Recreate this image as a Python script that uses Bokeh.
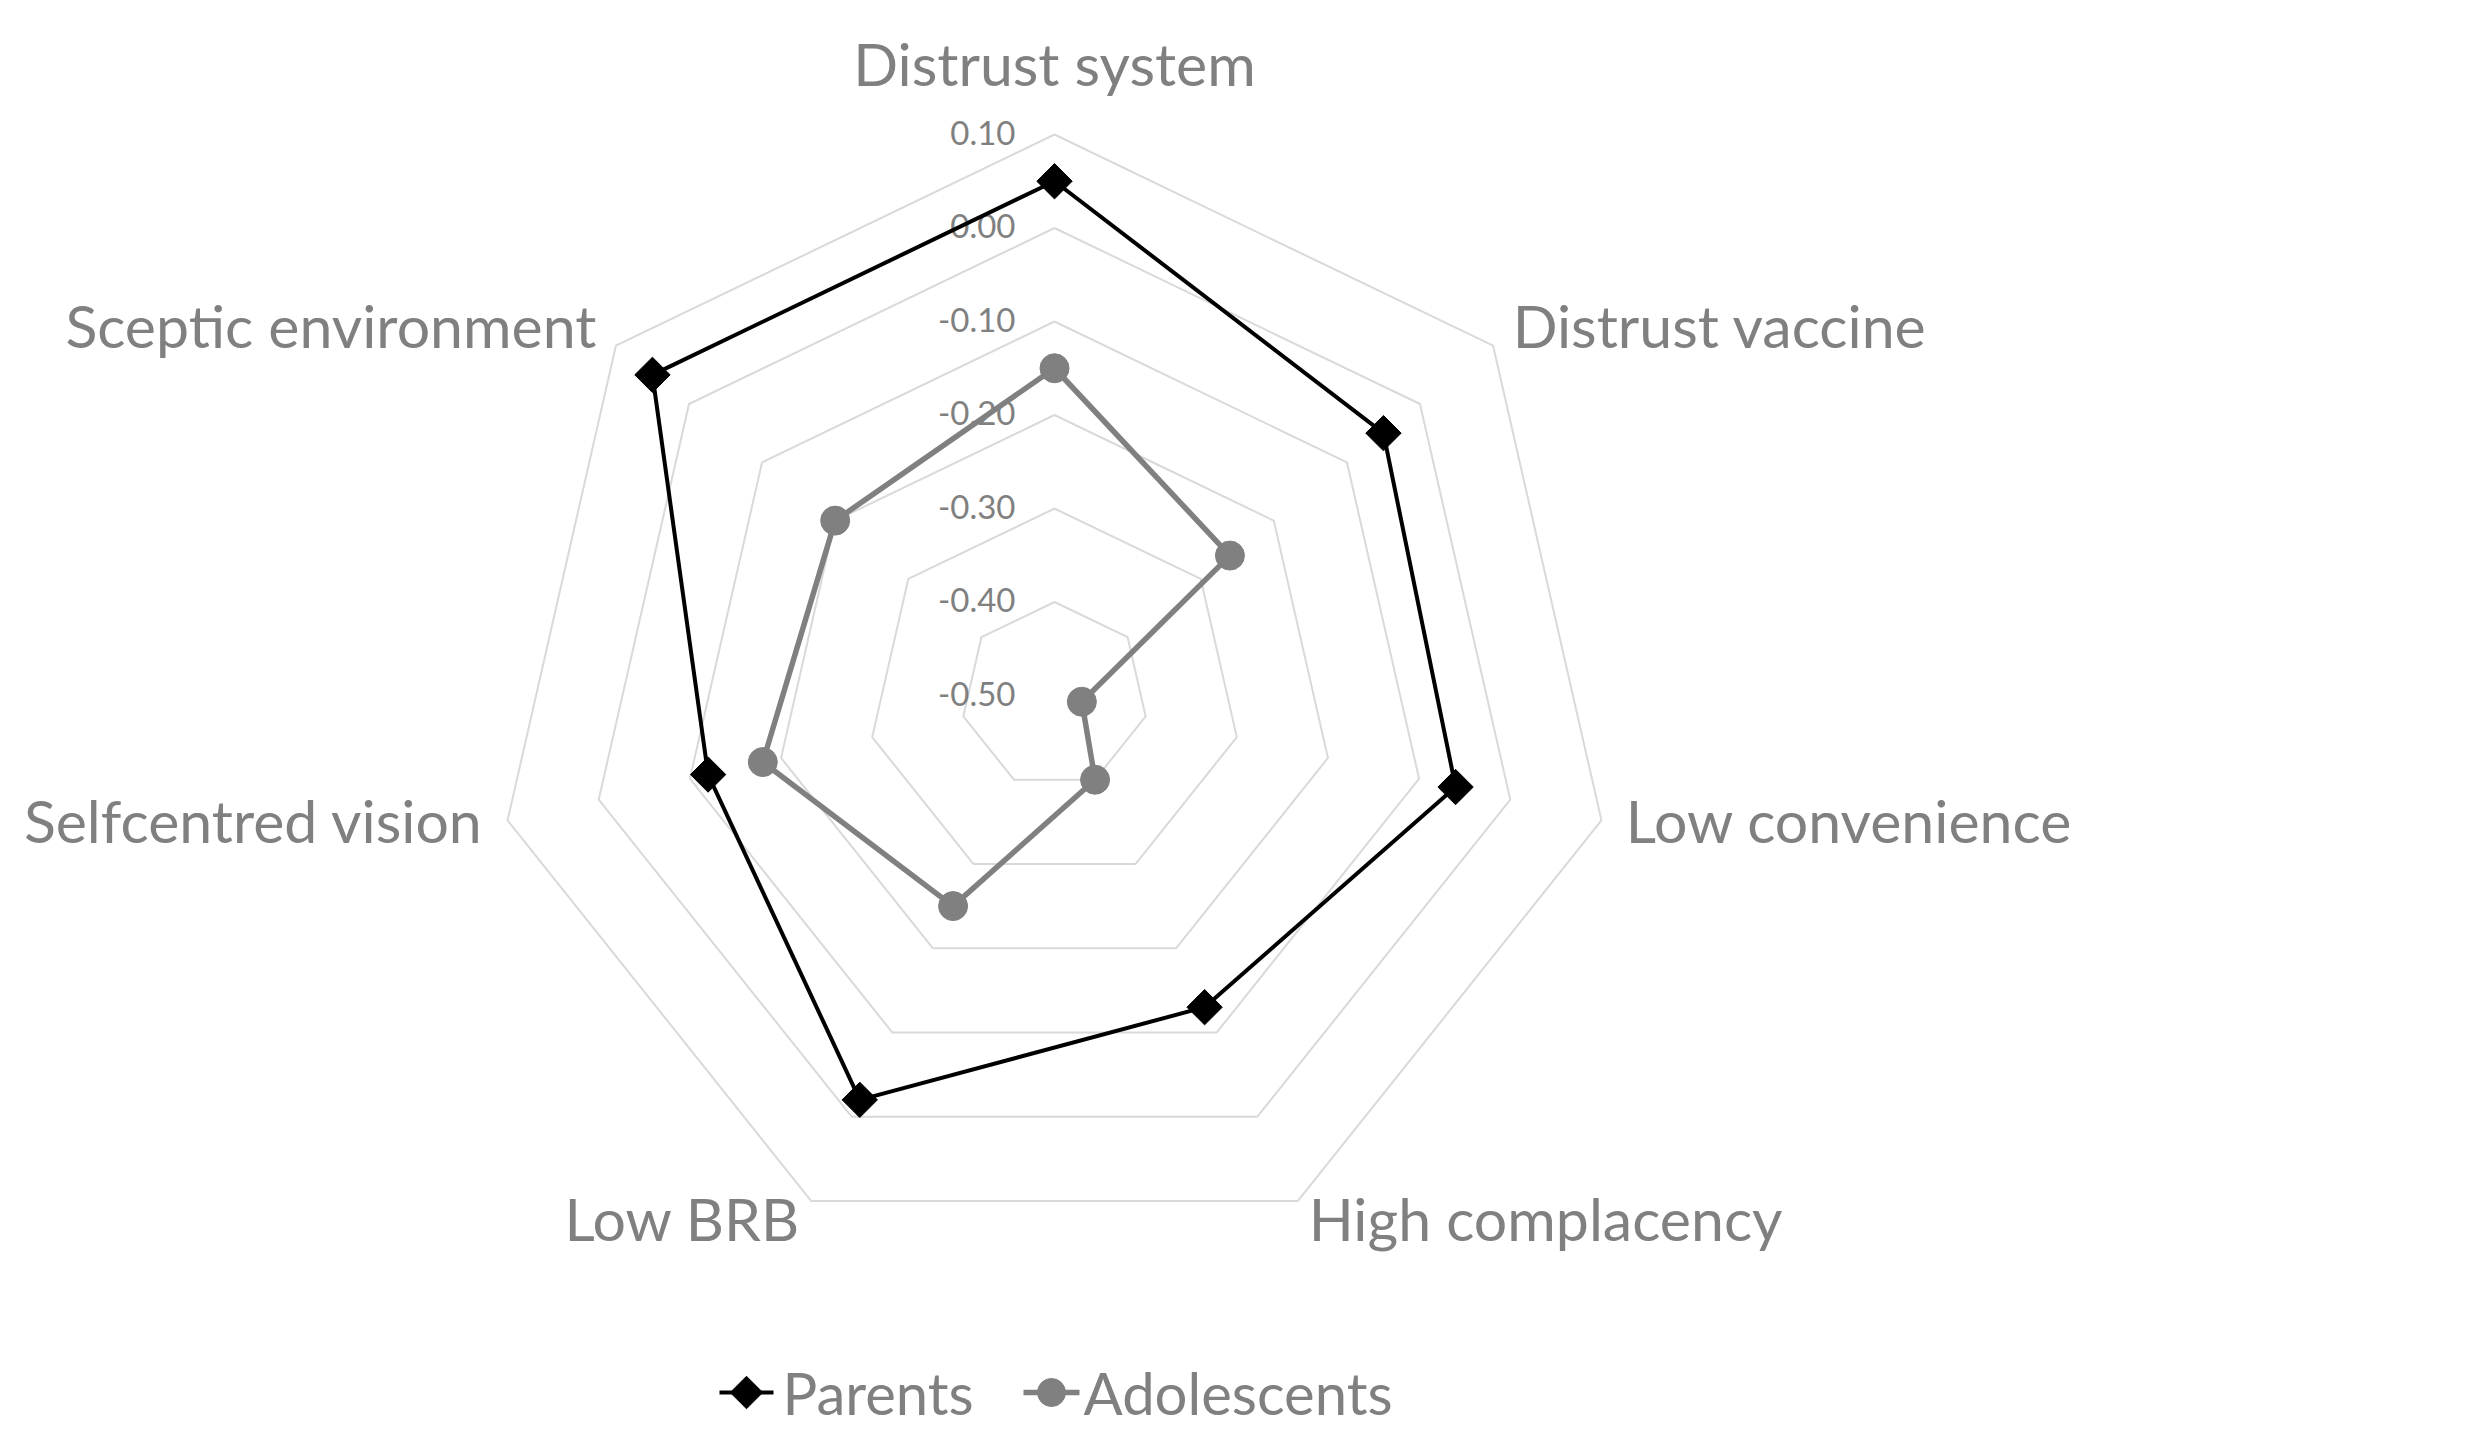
import numpy as np
from bokeh.plotting import figure
from bokeh.models import Range1d, ColumnDataSource
from bokeh.core.properties import value
from bokeh.embed import file_html
from bokeh.resources import INLINE

# ---------------- data ----------------
categories = ["Distrust system", "Distrust vaccine", "Low convenience",
              "High complacency", "Low BRB", "Selfcentred vision",
              "Sceptic environment"]
parents = [0.05, -0.05, -0.06, -0.13, -0.02, -0.12, 0.05]
adolescents = [-0.15, -0.26, -0.47, -0.40, -0.25, -0.18, -0.20]
ticks = [-0.50, -0.40, -0.30, -0.20, -0.10, 0.00, 0.10]
tick_labels = ["-0.50", "-0.40", "-0.30", "-0.20", "-0.10", "0.00", "0.10"]
series_names = ["Parents", "Adolescents"]

# ---------------- layout ----------------
W, H = 2449, 1430
CX, CY = 1054, 695          # centre of the radar in canvas pixels
SCALE = 935.0               # pixels per unit of value
R_MIN, R_MAX = ticks[0], ticks[-1]
FONT = "Lato"
GREY = "#808080"

n = len(categories)
theta = np.arange(n) * 2 * np.pi / n


def rad(v):
    return (np.asarray(v, dtype=float) - R_MIN) * SCALE


def xy(vals):
    r = rad(vals)
    return r * np.sin(theta), r * np.cos(theta)


def scr(sx, sy):
    """canvas pixel position -> data coordinates (for legend layout)"""
    return sx - CX, CY - sy


p = figure(width=W, height=H, output_backend="svg", toolbar_location=None,
           x_range=Range1d(-CX, W - CX), y_range=Range1d(-(H - CY), CY),
           min_border=0)
p.axis.visible = False
p.grid.visible = False
p.outline_line_color = None
p.background_fill_color = "white"

# grid rings
ring_xs, ring_ys = [], []
for t in ticks[1:]:
    r = rad(t)
    ring_xs.append(list(r * np.sin(theta)) + [r * np.sin(theta[0])])
    ring_ys.append(list(r * np.cos(theta)) + [r * np.cos(theta[0])])
p.multi_line(ring_xs, ring_ys, line_color="#d9d9d9", line_width=2)

# tick labels along the vertical axis
tsrc = ColumnDataSource(dict(x=[-39.0] * len(ticks), y=list(rad(ticks) + 2), t=tick_labels))
p.text("x", "y", "t", source=tsrc, text_font=value(FONT), text_font_size="33px",
       text_color=GREY, text_align="right", text_baseline="middle")

# category labels
lab_r = rad(R_MAX) + 25
lx = lab_r * np.sin(theta)
ly = lab_r * np.cos(theta)
aligns, baselines, ys = [], [], []
for th, yy in zip(theta, ly):
    s = np.sin(th)
    if abs(s) < 0.1:
        aligns.append("center"); baselines.append("bottom"); ys.append(yy + 11)
    elif s > 0:
        aligns.append("left"); baselines.append("middle"); ys.append(yy + 5)
    else:
        aligns.append("right"); baselines.append("middle"); ys.append(yy + 5)
csrc = ColumnDataSource(dict(x=lx, y=ys, t=categories, a=aligns, b=baselines))
p.text("x", "y", "t", source=csrc, text_font=value(FONT), text_font_size="59px",
       text_color=GREY, text_align="a", text_baseline="b")

# series
px_, py_ = xy(parents)
ax_, ay_ = xy(adolescents)
p.line(list(px_) + [px_[0]], list(py_) + [py_[0]], line_color="black", line_width=4)
p.scatter(px_, py_, marker="square", size=25, angle=np.pi / 4,
          fill_color="black", line_color="black")
p.line(list(ax_) + [ax_[0]], list(ay_) + [ay_[0]], line_color=GREY, line_width=5.5)
p.scatter(ax_, ay_, marker="circle", size=29, fill_color=GREY, line_color=GREY)

# legend (drawn by hand so the markers match the chart's)
LEG_Y = 1392                         # canvas y of the legend symbols
leg_line_x = [(719, 773), (1023, 1079)]
leg_text_x = [782, 1083]
for i, name in enumerate(series_names):
    (x0, x1) = leg_line_x[i]
    a0, b0 = scr(x0, LEG_Y)
    a1, _ = scr(x1, LEG_Y)
    mx = (a0 + a1) / 2
    if i == 0:
        p.line([a0, a1], [b0, b0], line_color="black", line_width=4)
        p.scatter([mx], [b0], marker="square", size=23, angle=np.pi / 4,
                  fill_color="black", line_color="black")
    else:
        p.line([a0, a1], [b0, b0], line_color=GREY, line_width=5.5)
        p.scatter([mx], [b0], marker="circle", size=28, fill_color=GREY, line_color=GREY)
    tx, ty = scr(leg_text_x[i], LEG_Y)
    p.text([tx], [ty], [name], text_font=value(FONT), text_font_size="58px",
           text_color=GREY, text_align="left", text_baseline="middle")

open("out.html", "w").write(file_html(p, INLINE))
